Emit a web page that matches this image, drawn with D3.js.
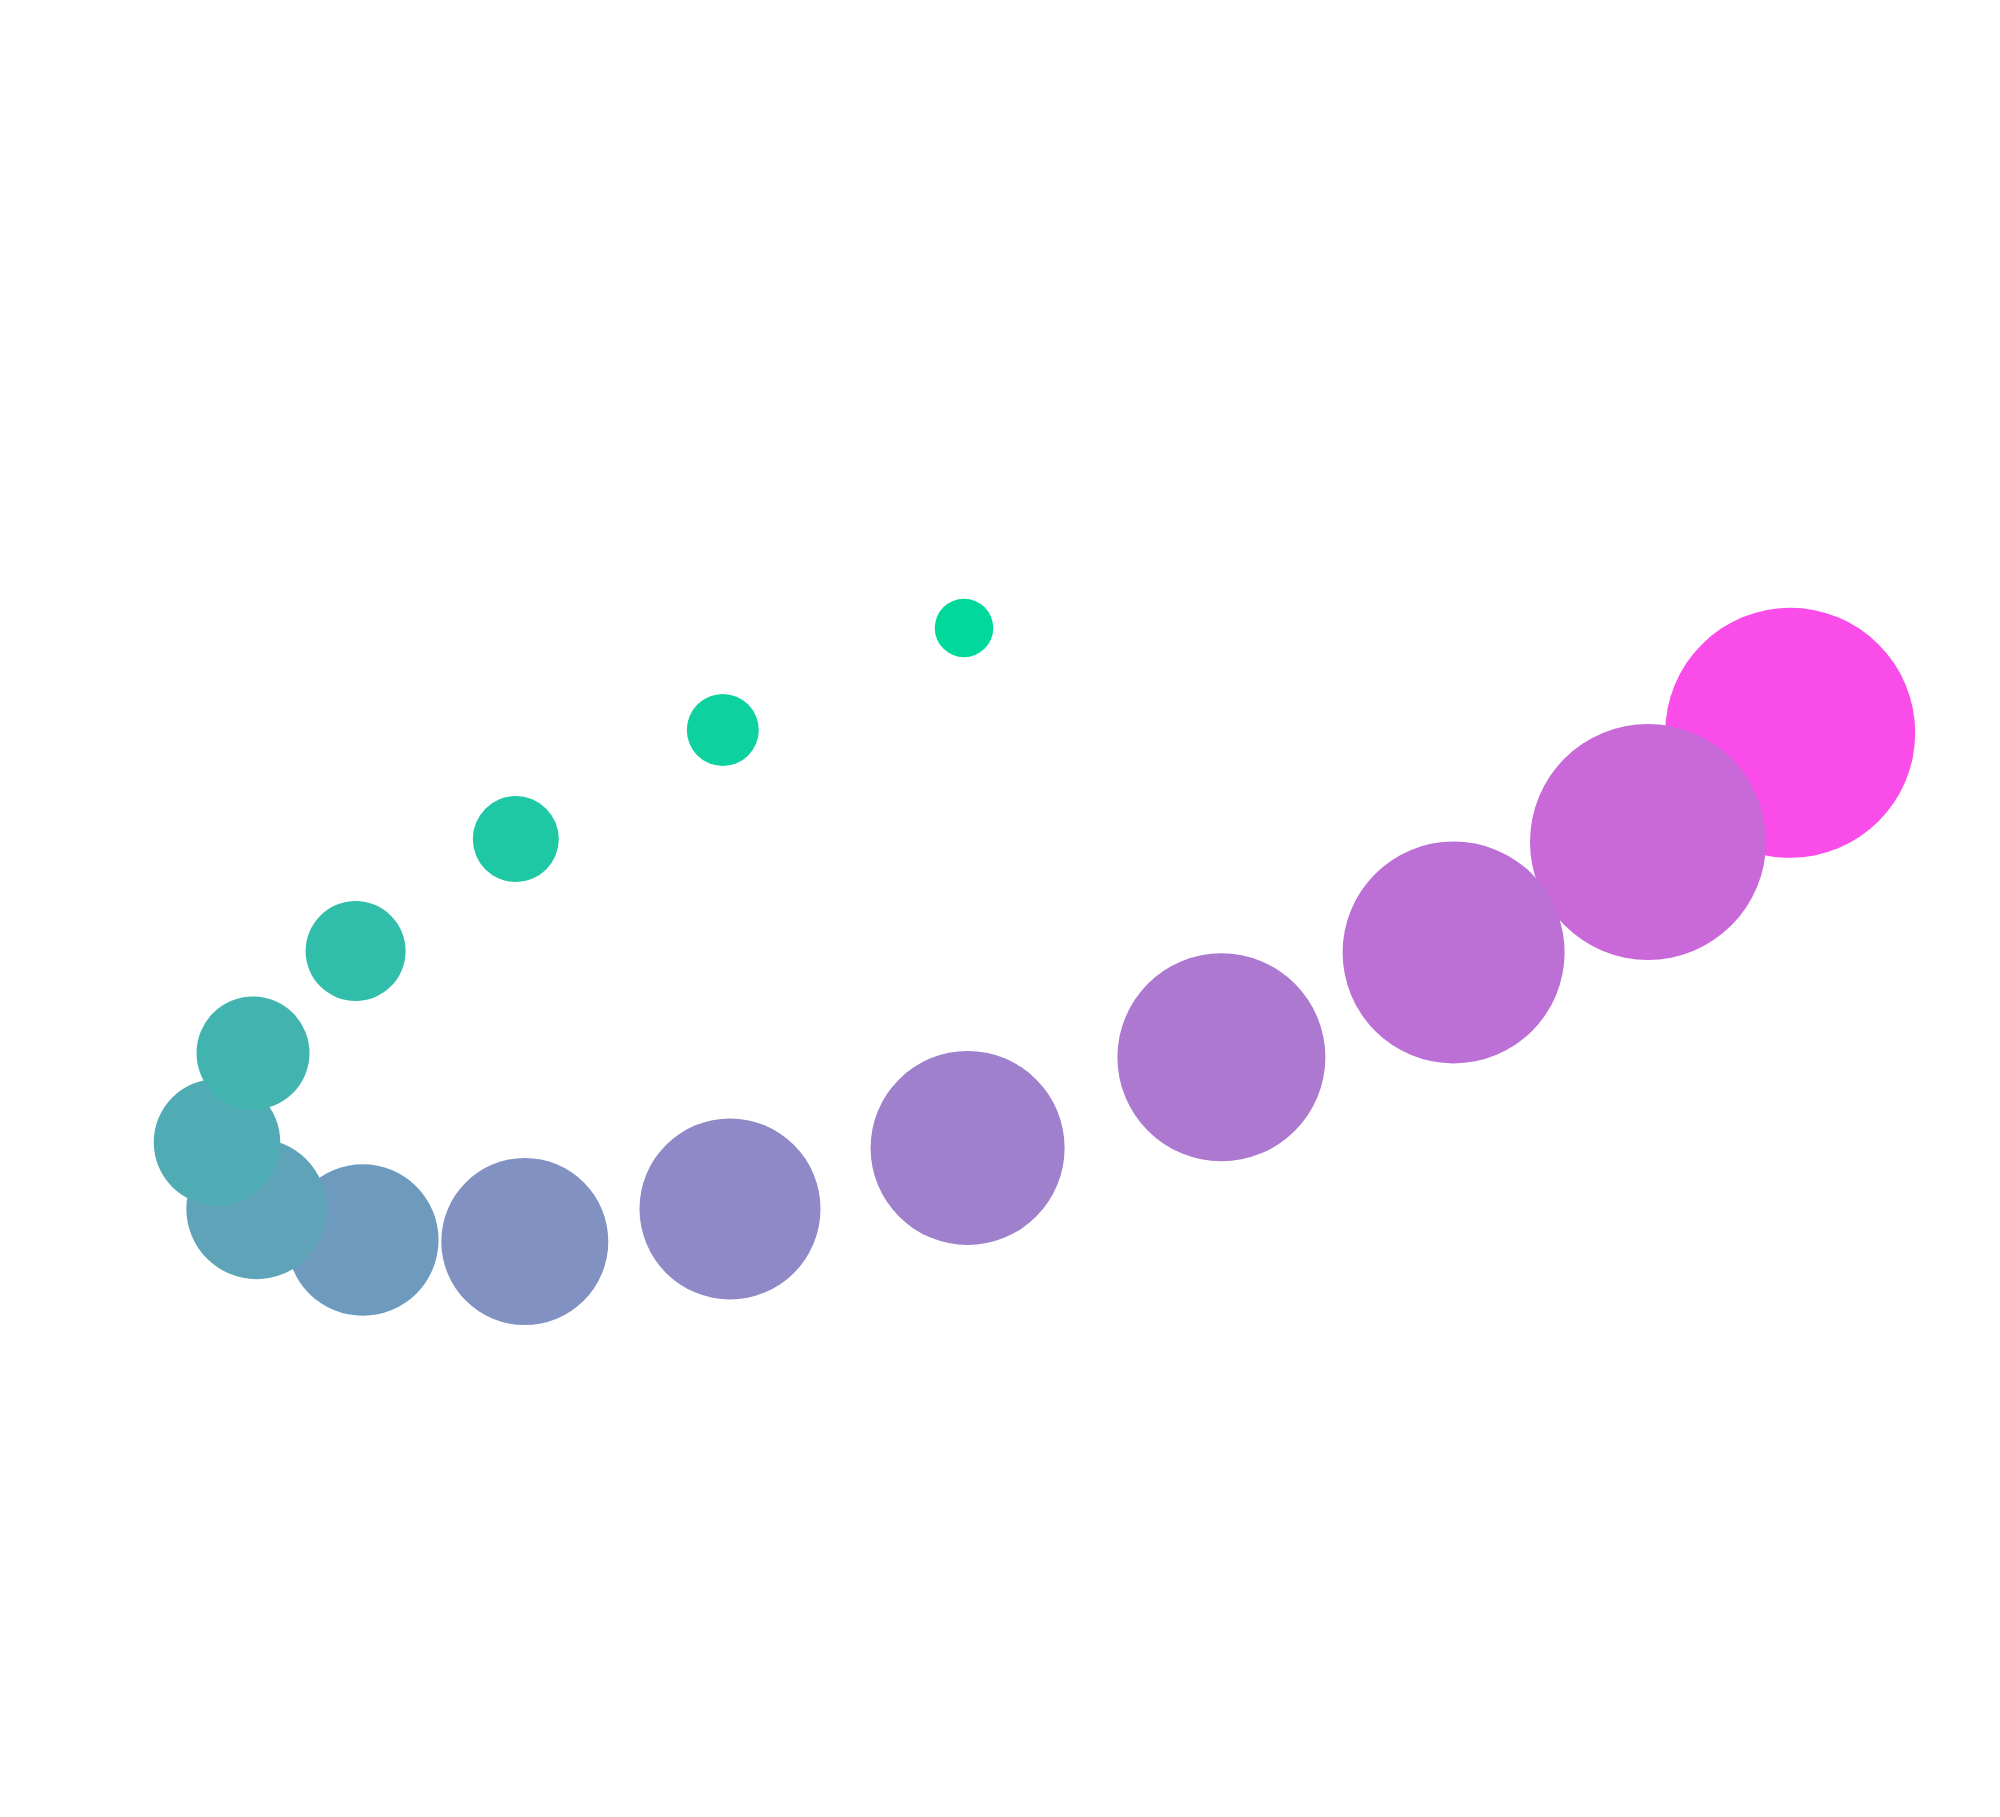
<!DOCTYPE html>
<html>
<head>
<meta charset="utf-8">
<script src="https://cdn.jsdelivr.net/npm/d3@7"></script>
<style>
  body { margin: 0; background: #fff; }
</style>
</head>
<body>
<div id="chart"></div>
<script>
// data
const xs = [48.0, 34.6, 23.1, 14.2, 8.5, 6.5, 8.7, 14.6, 23.6, 35.0, 48.2, 62.3, 75.2, 86.0, 93.9]
const ys = [69.8, 62.6, 54.9, 47.0, 39.8, 33.5, 28.8, 26.6, 26.5, 28.8, 33.1, 39.5, 46.9, 54.7, 62.4]
const weights = [23.4, 28.8, 34.4, 40.0, 45.2, 50.6, 56.2, 60.6, 66.8, 72.4, 77.6, 83.2, 88.8, 94.4, 100]
const tones = [0, 0.05, 0.12, 0.19, 0.26, 0.32, 0.38, 0.44, 0.51, 0.57, 0.63, 0.69, 0.75, 0.80, 1.0]

const width = 2000
const height = 1817

const data = xs.map((x, i) => ({ i, x, y: ys[i], w: weights[i], t: tones[i] }))

const svg = d3.select('#chart')
  .append('svg')
  .attr('width', width)
  .attr('height', height)

const x = d3.scaleLinear().domain([0, 100]).range([100, 1900])
const y = d3.scaleLinear().domain([0, 100]).range([1617, 200])
const r = d3.scaleLinear().domain([0, 100]).range([0, 125])
const color = d3.scaleLinear().domain([0, 1]).range(['#00d99b', '#fa4ce8'])

// later points sit underneath earlier ones
svg.append('g')
  .selectAll('circle')
  .data(data.slice().reverse())
  .join('circle')
  .attr('cx', d => x(d.x))
  .attr('cy', d => y(d.y))
  .attr('r', d => r(d.w))
  .attr('fill', d => color(d.t))
</script>
</body>
</html>
